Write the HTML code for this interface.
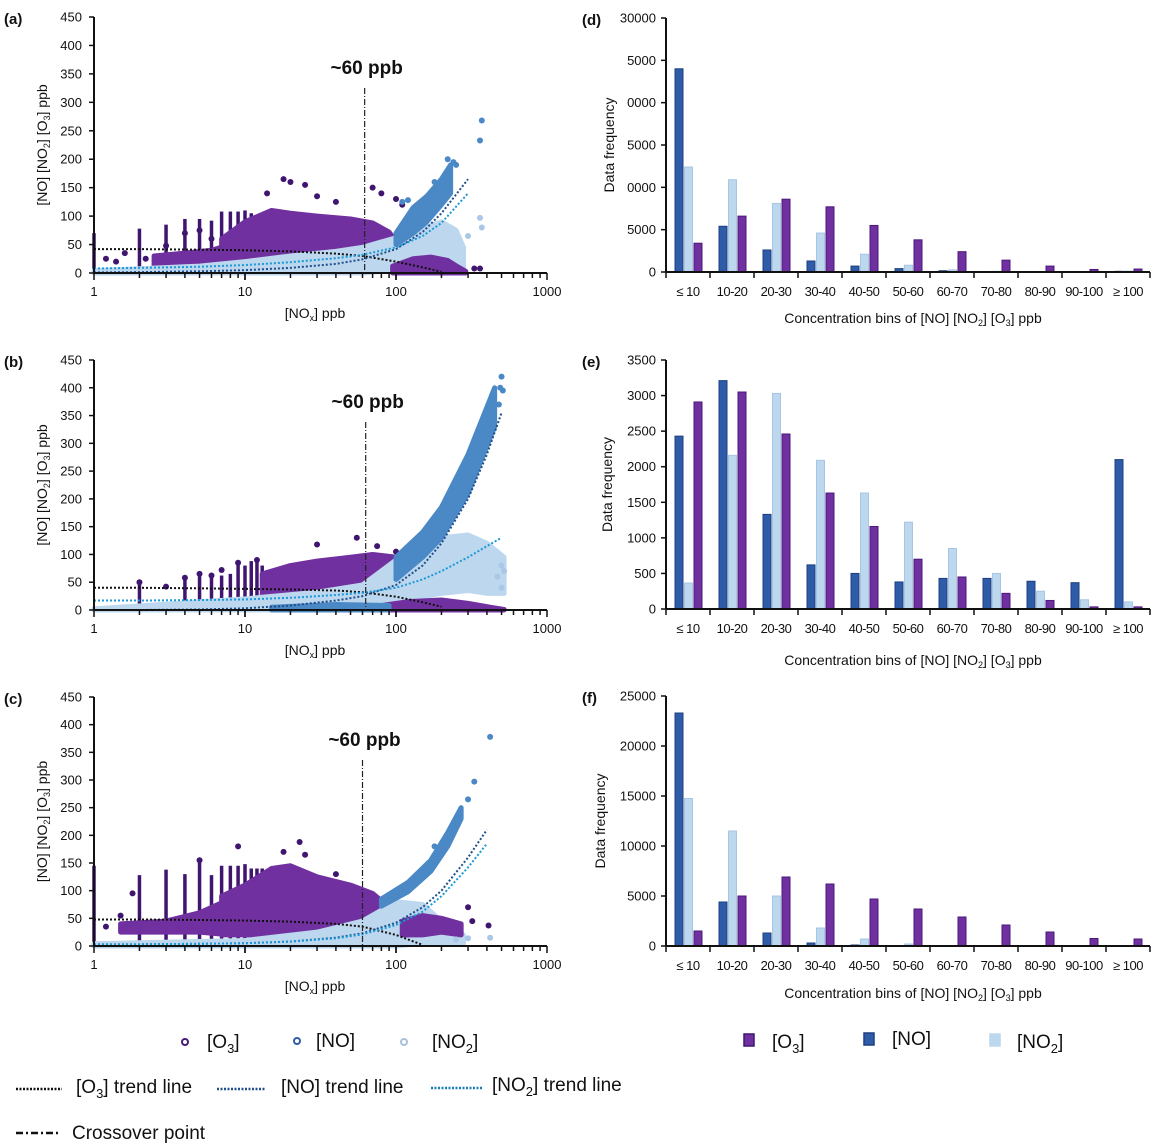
<!DOCTYPE html>
<html><head><meta charset="utf-8">
<style>
html,body{margin:0;padding:0;background:#fff;}
svg{display:block;font-family:"Liberation Sans",sans-serif;}
</style></head>
<body>
<svg id="fig" width="1166" height="1145" viewBox="0 0 1166 1145" xmlns="http://www.w3.org/2000/svg"></svg>
<script>
// ---------- BAR DATA ----------
const binLabels = ["≤ 10","10-20","20-30","30-40","40-50","50-60","60-70","70-80","80-90","90-100","≥ 100"];
const dNO  = [24000,5400,2600,1300,700,400,150,60,0,0,80];
const dNO2 = [12400,10900,8100,4600,2100,800,250,80,0,0,100];
const dO3  = [3400,6600,8600,7700,5500,3800,2400,1400,700,300,350];
const dTickVals = [0,5000,10000,15000,20000,25000,30000];
const dTickLabels = ["0","5000","0000","5000","0000","5000","30000"];
const eNO  = [2430,3210,1330,620,500,380,430,430,390,370,2100];
const eNO2 = [365,2160,3030,2090,1630,1220,850,500,250,130,100];
const eO3  = [2910,3050,2460,1630,1160,700,450,220,120,30,30];
const eTickVals = [0,500,1000,1500,2000,2500,3000,3500];
const eTickLabels = ["0","500","1000","1500","2000","2500","3000","3500"];
const fNO  = [23300,4400,1300,300,100,0,0,0,0,0,0];
const fNO2 = [14750,11500,5000,1800,700,200,50,50,50,30,50];
const fO3  = [1500,5000,6900,6200,4700,3700,2900,2100,1400,750,700];
const fTickVals = [0,5000,10000,15000,20000,25000];
const fTickLabels = ["0","5000","10000","15000","20000","25000"];

// ---------- SCATTER DATA (envelopes: [NOx, low, high]) ----------
const xTickVals = [1,10,100,1000];
const yTickVals = [0,50,100,150,200,250,300,350,400,450];
// panel a
const aO3Cloud = [[7,10,60],[10,15,90],[15,25,110],[20,30,105],[30,35,100],[50,32,95],[70,30,88],[90,32,72],[100,35,55]];
const aO3Low = [[2.5,10,30],[4,12,35],[6,12,40],[8,10,50]];
const aO3Bottom = [[95,0,12],[130,0,25],[170,0,28],[220,0,22],[260,0,10],[290,0,3]];
const aStripeX = [1,2,3,4,5,6,7,8,9,10,11,12,13];
const aStripeTop = [70,78,85,95,95,92,108,108,108,110,105,100,100];
const aNO2Cloud = [[1,0,4],[5,0,12],[10,0,20],[20,0,30],[40,0,38],[60,0,45],[100,5,62],[150,10,78],[200,15,90],[250,20,75],[280,5,45]];
const aNOCloud = [[100,50,70],[130,70,115],[160,90,135],[200,120,165],[230,140,190]];
const aNOPts = [[370,268],[360,233],[220,200],[240,195],[250,190],[180,160],[120,128],[110,125]];
const aNO2Pts = [[360,97],[370,80],[300,65]];
const aO3Pts = [[18,165],[20,160],[25,155],[14,140],[30,135],[70,150],[80,140],[100,130],[110,120],[40,125],[200,60],[330,8],[360,8],[1.2,25],[1.4,20],[1.6,35],[2.2,25],[3,48],[4,70],[5,75],[6,60]];
const trendX = [1,2,5,10,20,40,60,100,150,200,300,400,500];
const aO3Trend = [42,42,41,40,38,34,30,20,10,2,null,null,null];
const aNOTrend = [1,1.5,3,5,9,16,24,42,72,105,165,null,null];
const aNO2Trend = [8,9,11,14,19,26,32,45,65,88,140,null,null];
// panel b
const bO3Cloud = [[13,18,65],[20,22,80],[30,28,88],[50,38,95],[70,48,100],[100,65,95]];
const bO3Bottom = [[80,0,8],[120,0,15],[200,0,18],[300,0,12],[420,0,5],[520,0,1]];
const bStripeX = [2,4,5,6,7,8,9,10,11,12,13];
const bStripeTop = [50,58,65,62,62,65,85,80,88,90,80];
const bNO2Cloud = [[1,0,2],[10,0,20],[30,0,32],[60,5,45],[100,15,90],[200,30,130],[300,35,135],[400,30,120],[520,30,95]];
const bNOCloud = [[100,55,95],[150,95,140],[200,130,185],[300,210,280],[450,330,400]];
const bNOBottom = [[15,0,5],[40,0,10],[90,0,8]];
const bNOPts = [[500,420],[490,400],[510,395],[480,370],[420,350]];
const bNO2Pts = [[500,80],[520,70],[470,60],[500,40]];
const bO3Pts = [[2,50],[4,58],[5,65],[6,62],[7,72],[9,85],[12,90],[30,118],[55,130],[75,115],[100,105],[3,42],[4,8],[5,10]];
const bO3Trend = [40,40,39,38,37,35,32,24,14,6,null,null,null];
const bNOTrend = [0,0,1,3,8,17,25,45,80,120,200,280,355];
const bNO2Trend = [17,17,18,19,22,27,31,40,55,70,95,115,130];
// panel c
const cO3Cloud = [[7,20,90],[10,20,110],[15,20,140],[20,25,145],[30,25,125],[50,30,110],[70,35,95],[90,45,70]];
const cO3Low = [[1.5,25,40],[3,25,45],[5,25,60],[8,20,85]];
const cO3Bottom = [[110,20,45],[150,20,55],[200,25,50],[270,20,40]];
const cStripeX = [1,2,3,4,5,6,7,8,9,10,11,12,13];
const cStripeTop = [145,128,138,130,155,128,145,145,145,148,140,140,140];
const cNO2Cloud = [[1,0,4],[10,0,10],[30,0,25],[60,0,45],[100,0,80],[150,5,75],[200,5,45],[280,5,20]];
const cNOCloud = [[80,72,85],[120,98,115],[170,135,155],[220,180,205],[270,230,250]];
const cNOPts = [[420,378],[330,297],[300,265],[250,215],[180,180]];
const cNO2Pts = [[420,15],[300,14],[250,12]];
const cO3Pts = [[23,188],[9,180],[18,170],[25,165],[5,155],[40,130],[100,95],[300,70],[320,45],[410,37],[1.8,95],[1.5,55],[1.2,35]];
const cO3Trend = [48,48,47,46,44,40,35,20,2,null,null,null,null];
const cNOTrend = [3,3,4,5,8,15,23,42,70,100,160,210,null];
const cNO2Trend = [3,3,4,5,8,14,21,38,62,90,142,185,null];

const svg = document.getElementById('fig');
const NS = "http://www.w3.org/2000/svg";
function mk(tag, attrs, parent){
  const e = document.createElementNS(NS, tag);
  for (const k in attrs) e.setAttribute(k, attrs[k]);
  (parent||svg).appendChild(e);
  return e;
}
function txt(s, x, y, size, anchor, parent, extra){
  const t = mk('text', Object.assign({x:x, y:y, 'font-size':size, 'text-anchor':anchor||'start', fill:'#111'}, extra||{}), parent);
  t.innerHTML = s;
  return t;
}
const C_O3='#7030a0', C_O3D='#3f1570', C_NO='#4a88c6', C_NOBAR='#2e5ca8', C_NO2='#bdd7ee', C_NO2P='#a9c8e6';

function scatterPanel(p){
  const g = mk('g', {});
  
  
  const L=94, dec=151, y0=p.y0, yTop=p.yTop;
  const sx = v => L + Math.log10(v)*dec;
  const sy = v => y0 - v*(y0-yTop)/450;
  function cloud(arr, color, nm){
    const up = arr.map(d => sx(d[0])+','+sy(d[2]));
    const lo = arr.slice().reverse().map(d => sx(d[0])+','+sy(d[1]));
    const e = mk('polygon', {points: up.concat(lo).join(' '), fill: color, stroke: color, 'stroke-width': 5, 'stroke-linejoin':'round'}, g);
    
    
  }
  function pts(arr, color, nm){
    arr.forEach(d => {
      const c = mk('circle', {cx: sx(d[0]), cy: sy(d[1]), r: 3, fill: color}, g);
      
      
    });
  }
  p.stripeX.forEach((x,i) => {
    const l = mk('line', {x1: sx(x), x2: sx(x), y1: sy(0), y2: sy(p.stripeTop[i]), stroke: C_O3D, 'stroke-width': 3.5}, g);
    
    
  });
  if (p.o3Low) cloud(p.o3Low, C_O3, 'o3-cloud-low');
  cloud(p.o3Cloud, C_O3, 'o3-cloud');
  pts(p.o3Pts, C_O3D, 'o3-point');
  cloud(p.no2Cloud, C_NO2, 'no2-cloud');
  cloud(p.o3Bottom, C_O3, 'o3-cloud-bottom');
  if (p.noBottom) cloud(p.noBottom, C_NO, 'no-cloud-bottom');
  cloud(p.noCloud, C_NO, 'no-cloud');
  pts(p.noPts, C_NO, 'no-point');
  pts(p.no2Pts, C_NO2P, 'no2-point');
  function trend(vals, color, nm){
    const ps = [];
    trendX.forEach((x,i) => { if (vals[i] !== null) ps.push(sx(x)+','+sy(vals[i])); });
    const e = mk('polyline', {points: ps.join(' '), fill:'none', stroke: color, 'stroke-width': 2, 'stroke-dasharray':'2 2'}, g);
    
    
  }
  trend(p.o3Trend, '#111', 'o3-trend-line');
  trend(p.noTrend, '#1f4f8c', 'no-trend-line');
  trend(p.no2Trend, '#1a9ad6', 'no2-trend-line');
  const ya = mk('line', {x1:L, x2:L, y1:yTop, y2:y0, stroke:'#111', 'stroke-width':2}, g);
   
  const xa = mk('line', {x1:L, x2:L+3*dec, y1:y0, y2:y0, stroke:'#111', 'stroke-width':2}, g);
   
  yTickVals.forEach(v => {
    mk('line', {x1:L-5, x2:L, y1:sy(v), y2:sy(v), stroke:'#111', 'stroke-width':1.5}, g);
    const t = txt(String(v), L-12, sy(v)+4.5, 13, 'end', g);
     
  });
  for (let d=0; d<3; d++) for (let m=1; m<=10; m++){
    const v = Math.pow(10,d)*m;
    mk('line', {x1:sx(v), x2:sx(v), y1:y0, y2:y0+(m===1||m===10?7:5), stroke:'#111', 'stroke-width':1.5}, g);
  }
  xTickVals.forEach(v => {
    const t = txt(String(v), sx(v), y0+23, 13, 'middle', g);
     
  });
  const xt = txt('[NO<tspan font-size="9" dy="3">x</tspan><tspan dy="-3">] ppb</tspan>', 315, y0+45, 14, 'middle', g);
   
  const yc = (y0+yTop)/2;
  const yt = txt('[NO] [NO<tspan font-size="9" dy="3">2</tspan><tspan dy="-3">] [O</tspan><tspan font-size="9" dy="3">3</tspan><tspan dy="-3">] ppb</tspan>', 0, 0, 14, 'middle', g, {transform:`translate(47,${yc}) rotate(-90)`});
   
  const cx = sx(p.crossX);
  const cl = mk('line', {x1:cx, x2:cx, y1:p.crossTop, y2:y0, stroke:'#222', 'stroke-width':1.2, 'stroke-dasharray':'6 2 1 2'}, g);
   
  const ct = txt('~60 ppb', cx+2, p.crossTop-14, 19, 'middle', g, {'font-weight':'bold'});
   
  const pl = txt(p.label, 4, yTop+7, 15, 'start', g, {'font-weight':'bold'});
   
}

scatterPanel({name:'scatter-panel-a', label:'(a)', y0:273, yTop:17, o3Cloud:aO3Cloud, o3Low:aO3Low, o3Bottom:aO3Bottom, stripeX:aStripeX, stripeTop:aStripeTop, no2Cloud:aNO2Cloud, noCloud:aNOCloud, noPts:aNOPts, no2Pts:aNO2Pts, o3Pts:aO3Pts, o3Trend:aO3Trend, noTrend:aNOTrend, no2Trend:aNO2Trend, crossX:62, crossTop:88});
scatterPanel({name:'scatter-panel-b', label:'(b)', y0:610, yTop:360, o3Cloud:bO3Cloud, o3Bottom:bO3Bottom, stripeX:bStripeX, stripeTop:bStripeTop, no2Cloud:bNO2Cloud, noCloud:bNOCloud, noBottom:bNOBottom, noPts:bNOPts, no2Pts:bNO2Pts, o3Pts:bO3Pts, o3Trend:bO3Trend, noTrend:bNOTrend, no2Trend:bNO2Trend, crossX:63, crossTop:422});
scatterPanel({name:'scatter-panel-c', label:'(c)', y0:946, yTop:697, o3Cloud:cO3Cloud, o3Low:cO3Low, o3Bottom:cO3Bottom, stripeX:cStripeX, stripeTop:cStripeTop, no2Cloud:cNO2Cloud, noCloud:cNOCloud, noPts:cNOPts, no2Pts:cNO2Pts, o3Pts:cO3Pts, o3Trend:cO3Trend, noTrend:cNOTrend, no2Trend:cNO2Trend, crossX:60, crossTop:760});

function barPanel(p){
  const g = mk('g', {});
  
  
  const L=666, bw=44, y0=p.y0, yTop=p.yTop, maxV=p.tickVals[p.tickVals.length-1];
  const sy = v => y0 - v*(y0-yTop)/maxV;
  const series = [[p.no, C_NOBAR, '#1d3f80', 9, 'bar-no'], [p.no2, C_NO2, '#a7c6e4', 18.5, 'bar-no2'], [p.o3, C_O3, '#4a1a78', 28, 'bar-o3']];
  series.forEach(s => {
    s[0].forEach((v,i) => {
      if (v <= 0) return;
      const r = mk('rect', {x: L+i*bw+s[3], y: sy(v), width: 8, height: y0-sy(v), fill: s[1], stroke: s[2], 'stroke-width': 1}, g);
      
      
    });
  });
  const ya = mk('line', {x1:L, x2:L, y1:yTop, y2:y0, stroke:'#111', 'stroke-width':2}, g);
   
  const xa = mk('line', {x1:L, x2:L+11*bw, y1:y0, y2:y0, stroke:'#111', 'stroke-width':2}, g);
   
  p.tickVals.forEach((v,i) => {
    mk('line', {x1:L-5, x2:L, y1:sy(v), y2:sy(v), stroke:'#111', 'stroke-width':1.5}, g);
    const t = txt(p.tickLabels[i], L-10, sy(v)+4.5, 13, 'end', g);
     
  });
  for (let i=0;i<=11;i++) mk('line', {x1:L+i*bw, x2:L+i*bw, y1:y0, y2:y0+6, stroke:'#111', 'stroke-width':1.5}, g);
  binLabels.forEach((b,i) => {
    const t = txt(b, L+i*bw+bw/2, y0+24, 13, 'middle', g, {'letter-spacing':'-0.5'});
     
  });
  const xt = txt('Concentration bins of [NO] [NO<tspan font-size="9" dy="3">2</tspan><tspan dy="-3">] [O</tspan><tspan font-size="9" dy="3">3</tspan><tspan dy="-3">] ppb</tspan>', 913, y0+p.titleDy, 14, 'middle', g);
   
  const yt = txt('Data frequency', 0, 0, 14, 'middle', g, {transform:`translate(${p.ytx},${(y0+yTop)/2}) rotate(-90)`});
   
  const pl = txt(p.label, 582, yTop+7, 15, 'start', g, {'font-weight':'bold'});
   
}
barPanel({name:'bar-panel-d', label:'(d)', y0:272, yTop:18, no:dNO, no2:dNO2, o3:dO3, tickVals:dTickVals, tickLabels:dTickLabels, titleDy:51, ytx:614});
barPanel({name:'bar-panel-e', label:'(e)', y0:609, yTop:360, no:eNO, no2:eNO2, o3:eO3, tickVals:eTickVals, tickLabels:eTickLabels, titleDy:56, ytx:612});
barPanel({name:'bar-panel-f', label:'(f)', y0:946, yTop:696, no:fNO, no2:fNO2, o3:fO3, tickVals:fTickVals, tickLabels:fTickLabels, titleDy:52, ytx:605});

// ---------- LEGENDS ----------
const lg = mk('g', {});


function circ(x,y,c,nm){
  const e = mk('circle',{cx:x,cy:y,r:3,fill:'none',stroke:c,'stroke-width':2},lg);
   
}
function sq(x,y,c,s,nm){
  const e = mk('rect',{x:x,y:y,width:10,height:12,fill:c,stroke:s,'stroke-width':1.5},lg);
   
}
function ltxt(s,x,y,nm){
  const t = txt(s,x,y,19,'start',lg,{'font-family':'"Liberation Sans Narrow","Liberation Sans",sans-serif'});
   
}
circ(185,1042,'#4a1a78','legend-o3-marker'); ltxt('[O<tspan font-size="13" dy="5">3</tspan><tspan dy="-5">]</tspan>',207,1048,'legend-o3-label');
circ(297,1041,'#2e5ca8','legend-no-marker'); ltxt('[NO]',316,1047,'legend-no-label');
circ(404,1042,'#a9c0dc','legend-no2-marker'); ltxt('[NO<tspan font-size="13" dy="5">2</tspan><tspan dy="-5">]</tspan>',432,1048,'legend-no2-label');
sq(744,1034,'#7030a0','#3f1570','legend-o3-bar'); ltxt('[O<tspan font-size="13" dy="5">3</tspan><tspan dy="-5">]</tspan>',772,1048,'legend-o3-bar-label');
sq(864,1033,'#2e5ca8','#1d3f80','legend-no-bar'); ltxt('[NO]',892,1045,'legend-no-bar-label');
sq(990,1034,'#bdd7ee','#bdd7ee','legend-no2-bar'); ltxt('[NO<tspan font-size="13" dy="5">2</tspan><tspan dy="-5">]</tspan>',1017,1048,'legend-no2-bar-label');
function dl(x1,x2,y,c,dash,nm){
  const e = mk('line',{x1:x1,x2:x2,y1:y,y2:y,stroke:c,'stroke-width':2.5,'stroke-dasharray':dash},lg);
   
}
dl(16,62,1089,'#111','2 1.5','legend-o3-trend-line'); ltxt('[O<tspan font-size="13" dy="5">3</tspan><tspan dy="-5">] trend line</tspan>',76,1093,'legend-o3-trend-label');
dl(217,266,1089,'#1f4f8c','2 1.5','legend-no-trend-line'); ltxt('[NO] trend line',281,1093,'legend-no-trend-label');
dl(431,482,1088,'#1a7fb8','2 1.5','legend-no2-trend-line'); ltxt('[NO<tspan font-size="13" dy="5">2</tspan><tspan dy="-5">] trend line</tspan>',492,1091,'legend-no2-trend-label');
dl(16,60,1133,'#111','7 3 2 3','legend-crossover-line'); ltxt('Crossover point',72,1139,'legend-crossover-label');
</script>
</body></html>
